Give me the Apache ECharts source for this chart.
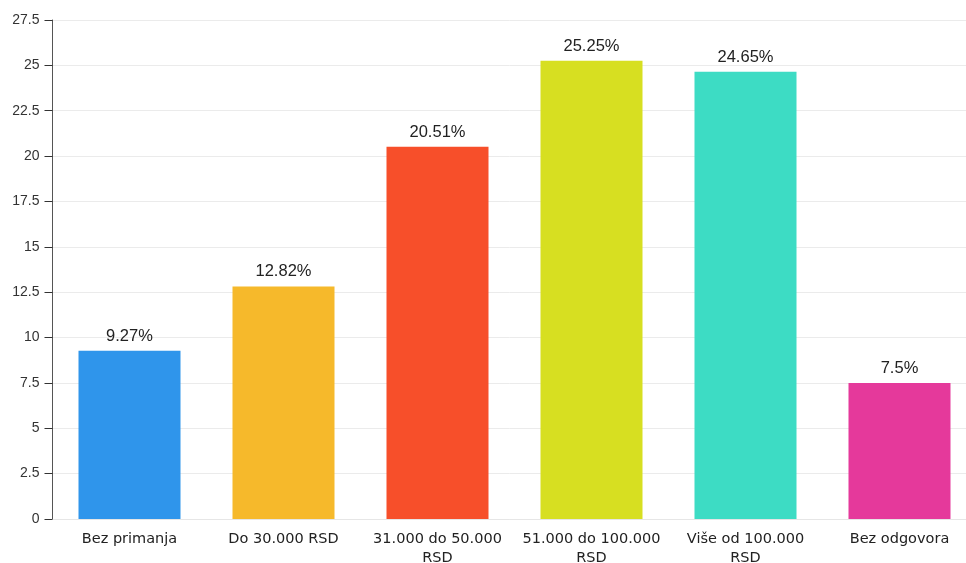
<!DOCTYPE html>
<html>
<head>
<meta charset="utf-8">
<script src="https://cdn.jsdelivr.net/npm/echarts@6/dist/echarts.min.js"></script>
<style>
  html, body { margin: 0; padding: 0; background: #fff; overflow: hidden; }
  #chart { width: 966px; height: 563px; }
</style>
</head>
<body>
<div id="chart"></div>
<script>
// Income brackets (share of respondents, %)
const categories = [
  'Bez primanja',
  'Do 30.000 RSD',
  '31.000 do 50.000\nRSD',
  '51.000 do 100.000\nRSD',
  'Više od 100.000\nRSD',
  'Bez odgovora'
];
const values = [9.27, 12.82, 20.51, 25.25, 24.65, 7.5];
const barColors = ['#2f95eb', '#f6b92b', '#f74f2a', '#d7df21', '#3ddcc4', '#e5399b'];

const chart = echarts.init(document.getElementById('chart'));
chart.setOption({
  animation: false,
  grid: { left: 52.5, right: -10.5, top: 20, bottom: 44, outerBoundsMode: 'none', containLabel: false },
  xAxis: {
    type: 'category',
    data: categories,
    axisLine: { lineStyle: { color: '#e6e6e6', width: 1 } },
    axisTick: { show: false },
    axisLabel: {
      color: '#222',
      fontFamily: 'DejaVu Sans',
      fontSize: 14.5,
      lineHeight: 19,
      margin: 11,
      interval: 0
    }
  },
  yAxis: {
    type: 'value',
    min: 0,
    max: 27.5,
    interval: 2.5,
    axisLine: { show: true, lineStyle: { color: '#555', width: 1 } },
    axisTick: { show: true, length: 8, lineStyle: { color: '#333' } },
    axisLabel: {
      color: '#333',
      fontFamily: 'Liberation Sans',
      fontSize: 14,
      margin: 13
    },
    splitLine: { lineStyle: { color: '#ebebeb', width: 1 } }
  },
  series: [{
    type: 'bar',
    barWidth: 102,
    data: values.map((v, i) => ({ value: v, itemStyle: { color: barColors[i] } })),
    label: {
      show: true,
      position: 'top',
      distance: 6,
      color: '#222',
      fontFamily: 'Liberation Sans',
      fontSize: 16.5,
      formatter: p => p.value + '%'
    }
  }]
});
</script>
</body>
</html>
